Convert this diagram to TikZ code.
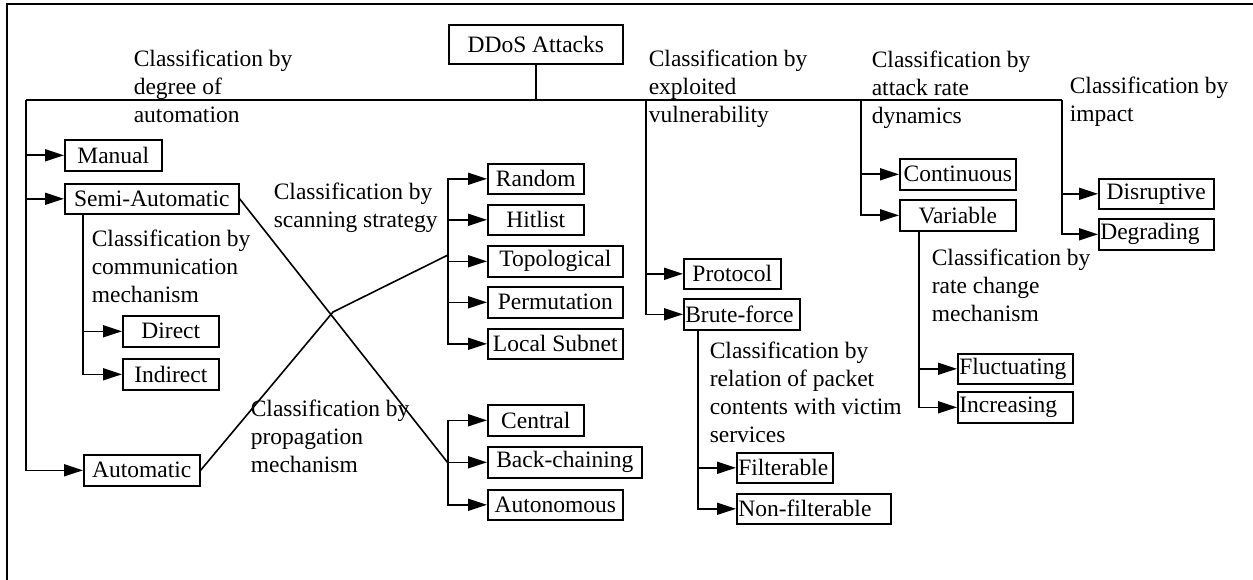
\documentclass[tikz,border=0pt]{standalone}
\usepackage{fontspec}
\setmainfont{Liberation Serif}
\usetikzlibrary{arrows.meta}

\begin{document}
\begin{tikzpicture}[x=1pt, y=-1pt, line width=1.6pt,
	box/.style={draw, anchor=north west, inner sep=0pt, minimum height=31pt, font=\fontsize{23.5}{28}\selectfont},
	boxl/.style={box, align=left, text width=#1, inner xsep=1.5pt},
	lbl/.style={anchor=north west, inner sep=0pt, align=left, font=\fontsize{23.5}{28}\selectfont},
	arr/.style={-{Triangle[length=19pt,width=12pt]}}]
			%%%%% START %%%%%
			
			\useasboundingbox (0,0) rectangle (1253,580);
			\draw (7,580) -- (7,4) -- (1253,4);
			
			\node[box, minimum width=174pt, minimum height=39pt] (ddos) at (448,24) {DDoS Attacks};
			
			\node[box, minimum width=97pt] (manual) at (64,139) {Manual};
			\node[box, minimum width=174pt, minimum height=30pt] (semi) at (64,183) {Semi-Automatic};
			\node[box, minimum width=116pt] (auto) at (83,454) {Automatic};
			\node[box, minimum width=96pt] (direct) at (122,315) {Direct};
			\node[box, minimum width=96pt] (indirect) at (122,358) {Indirect};
			
			\node[box, minimum width=96pt, minimum height=30pt] (random) at (487,163) {Random};
			\node[box, minimum width=96pt, minimum height=30pt] (hitlist) at (487,204) {Hitlist};
			\node[box, minimum width=135pt] (topo) at (487,245) {Topological};
			\node[box, minimum width=135pt] (perm) at (487,286) {Permutation};
			\node[box, minimum width=135pt, minimum height=30pt] (subnet) at (487,328) {Local Subnet};
			
			\node[box, minimum width=96pt] (central) at (487,404) {Central};
			\node[box, minimum width=154pt] (backch) at (487,446) {Back-chaining};
			\node[box, minimum width=135pt, minimum height=30pt] (autonom) at (487,489) {Autonomous};
			
			\node[box, minimum width=97pt, minimum height=30pt] (protocol) at (683,258) {Protocol};
			\node[boxl=113pt] (brute) at (683,298) {Brute-force};
			\node[boxl=93pt, minimum height=30pt] (filter) at (736,452) {Filterable};
			\node[boxl=151pt, minimum height=30pt] (nonfilter) at (736,493) {Non-filterable};
			
			\node[box, minimum width=116pt] (cont) at (899,158) {Continuous};
			\node[box, minimum width=116pt] (variable) at (899,199) {Variable};
			\node[boxl=112pt, minimum height=30pt] (fluct) at (957,353) {Fluctuating};
			\node[boxl=112pt] (incr) at (957,391) {Increasing};
			
			\node[box, minimum width=115pt, minimum height=30pt] (disrupt) at (1098,178) {Disruptive};
			\node[boxl=112pt] (degrade) at (1098,218) {Degrading};
			
			% classification labels
			\node[lbl] (lautom) at (133,49) {Classification by\\degree of\\automation};
			\node[lbl] (lvuln) at (648,49) {Classification by\\exploited\\vulnerability};
			\node[lbl] (lrate) at (871,50) {Classification by\\attack rate\\dynamics};
			\node[lbl] (limpact) at (1069,76) {Classification by\\impact};
			\node[lbl] (lcomm) at (91,229) {Classification by\\communication\\mechanism};
			\node[lbl] (lscan) at (273,182) {Classification by\\scanning strategy};
			\node[lbl] (lprop) at (250,399) {Classification by\\propagation\\mechanism};
			\node[lbl] (lpacket) at (709,341) {Classification by\\relation of packet\\contents with victim\\services};
			\node[lbl] (lchange) at (931,248) {Classification by\\rate change\\mechanism};
			
			% buses
			\coordinate (busL) at (26,100);
			\coordinate (busR) at (1062,100);
			\coordinate (vulnB) at (646,100);
			\coordinate (rateB) at (861,100);
			\coordinate (scanB) at (448,255);
			\coordinate (propB) at (448,463);
			\coordinate (cross) at (333,312);
			\coordinate (semiB) at ([xshift=19pt]semi.south west);
			\coordinate (bruteB) at ([xshift=15pt]brute.south west);
			\coordinate (varB) at ([xshift=20pt]variable.south west);
			
			\draw (ddos) -- (ddos |- busL);
			\draw (busL) -- (busR);
			
			\foreach \n in {manual,semi,auto} \draw[arr] (busL) |- (\n);
			\foreach \n in {direct,indirect} \draw[arr] (semiB) |- (\n);
			
			\draw (auto.east) -- (cross) -- (scanB);
			\draw (semi.east) -- (propB);
			\foreach \n in {random,hitlist,topo,perm,subnet} \draw[arr] (scanB) |- (\n);
			\foreach \n in {central,backch,autonom} \draw[arr] (propB) |- (\n);
			
			\foreach \n in {protocol,brute} \draw[arr] (vulnB) |- (\n);
			\foreach \n in {filter,nonfilter} \draw[arr] (bruteB) |- (\n);
			
			\foreach \n in {cont,variable} \draw[arr] (rateB) |- (\n);
			\foreach \n in {fluct,incr} \draw[arr] (varB) |- (\n);
			
			\foreach \n in {disrupt,degrade} \draw[arr] (busR) |- (\n);
			
			%%%%% END %%%%%
\end{tikzpicture}
\end{document}
